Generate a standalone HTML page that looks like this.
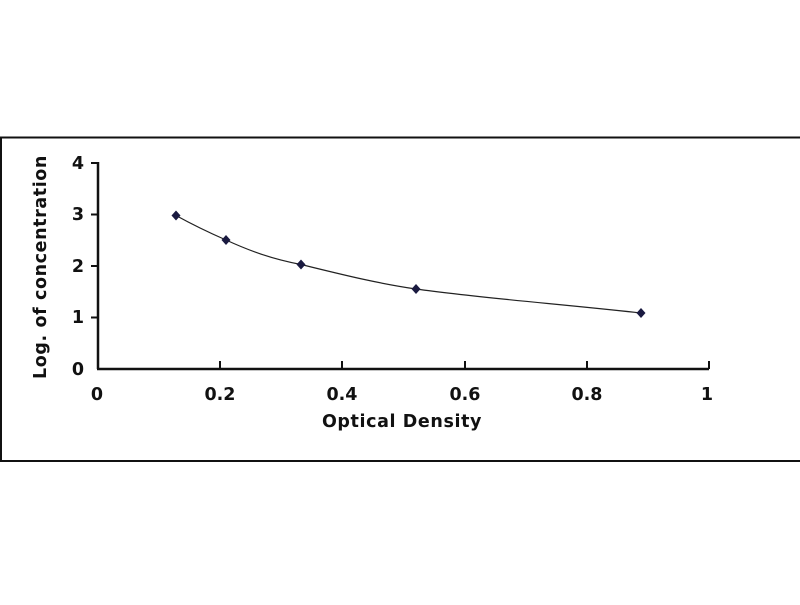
<!DOCTYPE html>
<html><head><style>
body{margin:0;background:#fff;}
svg text{font-family:"DejaVu Sans",Verdana,sans-serif;font-weight:bold;fill:#111;}
</style></head><body>
<svg width="800" height="600" viewBox="0 0 800 600" xmlns="http://www.w3.org/2000/svg">
<rect x="0" y="0" width="800" height="600" fill="#fff"/>
<rect x="1" y="137.5" width="801" height="323.5" fill="none" stroke="#111" stroke-width="2"/>
<g stroke="#111" stroke-width="2.5" fill="none">
<line x1="98" y1="162" x2="98" y2="369"/>
<line x1="97" y1="369" x2="709" y2="369"/>
</g>
<g stroke="#111" stroke-width="2">
<line x1="91" y1="163" x2="98" y2="163"/>
<line x1="91" y1="214.5" x2="98" y2="214.5"/>
<line x1="91" y1="266" x2="98" y2="266"/>
<line x1="91" y1="317.5" x2="98" y2="317.5"/>
<line x1="220" y1="361" x2="220" y2="369"/>
<line x1="342" y1="361" x2="342" y2="369"/>
<line x1="465" y1="361" x2="465" y2="369"/>
<line x1="587" y1="361" x2="587" y2="369"/>
<line x1="709" y1="361" x2="709" y2="369"/>
</g>
<g font-size="17.5" text-anchor="end">
<text x="84" y="169">4</text>
<text x="84" y="220">3</text>
<text x="84" y="272">2</text>
<text x="84" y="323">1</text>
<text x="84" y="375">0</text>
</g>
<g font-size="17.5" text-anchor="middle">
<text x="97" y="400">0</text>
<text x="220" y="400">0.2</text>
<text x="342" y="400">0.4</text>
<text x="465" y="400">0.6</text>
<text x="587" y="400">0.8</text>
<text x="707" y="400">1</text>
</g>
<text x="402" y="427" font-size="17.5" text-anchor="middle" style="letter-spacing:0.6px">Optical Density</text>
<text transform="translate(46,267) rotate(-90)" font-size="17.5" text-anchor="middle" style="letter-spacing:0.6px">Log. of concentration</text>
<path d="M176,215.5 C195,226 210,233 226,240 C250,251 272,259 301,264.5 C340,274 375,283 416,289 C480,298 560,304 641,313" fill="none" stroke="#222" stroke-width="1.2"/>
<g fill="#1a1a40">
<path d="M176,210.5 L180.5,215.5 176,220.5 171.5,215.5Z"/>
<path d="M226,235 L230.5,240 226,245 221.5,240Z"/>
<path d="M301,259.5 L305.5,264.5 301,269.5 296.5,264.5Z"/>
<path d="M416,284 L420.5,289 416,294 411.5,289Z"/>
<path d="M641,308 L645.5,313 641,318 636.5,313Z"/>
</g>
</svg>
</body></html>
